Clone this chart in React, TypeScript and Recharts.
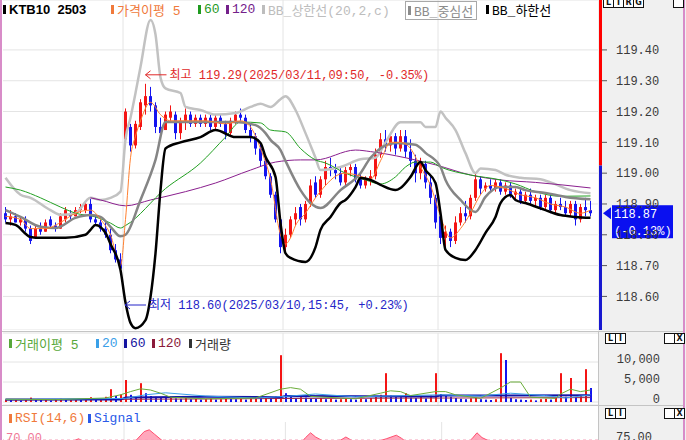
import React from 'react';
import { ComposedChart, Bar, Line, Area, XAxis, YAxis, CartesianGrid, ReferenceLine, ReferenceDot } from 'recharts';

// ---- price bars, 10-minute candles over four sessions ----
const opens = [
  118.87, 118.85, 118.86, 118.84, 118.85, 118.82, 118.79, 118.82, 118.81, 118.85, 118.83, 118.82, 118.85, 118.87, 118.86, 118.88, 118.88, 118.90, 118.85, 118.84, 118.82, 118.80, 118.75, 118.72,
  119.11, 119.15, 119.09, 119.15, 119.22, 119.25, 119.22, 119.15, 119.14, 119.18, 119.19, 119.13, 119.17, 119.19, 119.16, 119.18, 119.16, 119.18, 119.15, 119.18, 119.16, 119.13, 119.17, 119.19, 119.18, 119.14, 119.12, 119.08, 119.04, 118.99, 118.93, 118.85,
  118.76, 118.80, 118.85, 118.89, 118.85, 118.90, 118.97, 118.93, 118.98, 119.02, 119.01, 119.00, 118.97, 119.01, 119.02, 118.98, 118.96, 118.98, 118.99, 119.06, 119.11, 119.09, 119.12, 119.08, 119.12, 119.07, 119.04, 119.00, 119.03, 118.97, 118.92,
  118.86, 118.79, 118.81, 118.78, 118.84, 118.87, 118.86, 118.92, 118.98, 118.95, 118.96, 118.95, 118.97, 118.94, 118.96, 118.93, 118.94, 118.91, 118.93, 118.91, 118.92, 118.89, 118.92, 118.88, 118.90, 118.89, 118.87, 118.90, 118.85, 118.89, 118.88,
];
const highs = [
  118.89, 118.88, 118.87, 118.86, 118.86, 118.83, 118.83, 118.84, 118.85, 118.86, 118.84, 118.87, 118.89, 118.88, 118.89, 118.90, 118.91, 118.92, 118.86, 118.85, 118.84, 118.82, 118.77, 118.74,
  119.21, 119.16, 119.17, 119.24, 119.29, 119.28, 119.23, 119.18, 119.20, 119.22, 119.20, 119.18, 119.21, 119.20, 119.19, 119.19, 119.19, 119.19, 119.19, 119.19, 119.17, 119.18, 119.20, 119.21, 119.19, 119.16, 119.13, 119.10, 119.05, 119.00, 118.94, 118.86,
  118.82, 118.86, 118.89, 118.90, 118.91, 118.98, 118.99, 118.99, 119.04, 119.05, 119.03, 119.02, 119.02, 119.03, 119.03, 119.00, 118.99, 119.01, 119.08, 119.13, 119.14, 119.13, 119.13, 119.14, 119.14, 119.11, 119.06, 119.05, 119.04, 118.99, 118.93,
  118.88, 118.83, 118.82, 118.86, 118.89, 118.91, 118.93, 119.00, 118.99, 118.97, 118.98, 118.98, 118.98, 118.97, 118.97, 118.95, 118.95, 118.94, 118.95, 118.93, 118.93, 118.93, 118.93, 118.91, 118.92, 118.91, 118.91, 118.91, 118.90, 118.92, 118.91,
];
const lows = [
  118.84, 118.83, 118.84, 118.83, 118.81, 118.77, 118.79, 118.80, 118.81, 118.82, 118.81, 118.82, 118.84, 118.85, 118.86, 118.87, 118.87, 118.84, 118.83, 118.81, 118.79, 118.74, 118.71, 118.67,
  119.10, 119.07, 119.08, 119.14, 119.19, 119.20, 119.13, 119.11, 119.14, 119.17, 119.11, 119.11, 119.14, 119.15, 119.15, 119.15, 119.15, 119.14, 119.14, 119.15, 119.11, 119.12, 119.16, 119.17, 119.13, 119.10, 119.06, 119.02, 118.98, 118.92, 118.84, 118.74,
  118.74, 118.79, 118.83, 118.83, 118.84, 118.89, 118.92, 118.92, 118.96, 118.99, 118.98, 118.96, 118.96, 118.99, 118.97, 118.95, 118.95, 118.96, 118.98, 119.05, 119.07, 119.07, 119.06, 119.07, 119.05, 119.02, 118.97, 118.98, 118.95, 118.90, 118.82,
  118.77, 118.76, 118.76, 118.77, 118.83, 118.84, 118.85, 118.91, 118.93, 118.94, 118.94, 118.94, 118.93, 118.93, 118.92, 118.91, 118.90, 118.90, 118.90, 118.89, 118.88, 118.88, 118.87, 118.87, 118.88, 118.86, 118.86, 118.83, 118.84, 118.86, 118.86,
];
const closes = [
  118.85, 118.86, 118.84, 118.85, 118.82, 118.78, 118.82, 118.81, 118.84, 118.83, 118.82, 118.86, 118.88, 118.86, 118.88, 118.89, 118.90, 118.85, 118.84, 118.82, 118.80, 118.75, 118.72, 118.69,
  119.20, 119.09, 119.16, 119.23, 119.25, 119.22, 119.15, 119.13, 119.19, 119.20, 119.13, 119.17, 119.19, 119.16, 119.18, 119.16, 119.18, 119.15, 119.18, 119.16, 119.13, 119.17, 119.19, 119.18, 119.14, 119.12, 119.08, 119.04, 118.99, 118.93, 118.85, 118.76,
  118.80, 118.85, 118.87, 118.85, 118.90, 118.96, 118.93, 118.98, 119.02, 119.01, 119.00, 118.97, 119.01, 119.02, 118.98, 118.96, 118.98, 118.99, 119.06, 119.11, 119.09, 119.12, 119.08, 119.12, 119.07, 119.04, 119.00, 119.03, 118.97, 118.92, 118.84,
  118.79, 118.81, 118.78, 118.84, 118.87, 118.86, 118.92, 118.98, 118.95, 118.96, 118.95, 118.97, 118.94, 118.96, 118.93, 118.94, 118.91, 118.93, 118.91, 118.92, 118.89, 118.92, 118.88, 118.90, 118.89, 118.87, 118.90, 118.85, 118.89, 118.88, 118.87,
];
const volumes = [
  600, 500, 700, 400, 600, 1100, 600, 500, 700, 400, 600, 800, 500, 600, 700, 500, 900, 1200, 700, 800, 1300, 3200, 1500, 1900,
  5500, 1800, 1500, 4700, 2200, 1500, 1300, 1100, 1000, 1200, 900, 800, 1000, 700, 800, 600, 700, 900, 600, 700, 1000, 800, 700, 800, 600, 1100, 1200, 1000, 1300, 1100, 1500, 11700,
  2200, 1300, 1000, 1200, 1100, 900, 800, 1000, 700, 800, 600, 700, 900, 700, 600, 800, 700, 1000, 1300, 1800, 7200, 1600, 1400, 1200, 2200, 1100, 1000, 1300, 900, 1600, 7200,
  2000, 1600, 1300, 1000, 800, 700, 900, 1100, 700, 600, 500, 700, 12200, 10500, 1000, 700, 600, 500, 600, 400, 700, 800, 600, 1100, 7200, 1300, 6000, 1200, 1600, 8200, 3500,
];

// ---- indicator lines as [bar, value] ----
const bbUpper = [
  [0, 118.985], [3, 118.93], [5, 118.92], [9, 118.88], [11, 118.865], [14, 118.87], [17, 118.92], [19, 118.913], [21, 118.92], [23, 118.94],
  [24, 119.11], [25, 119.18], [26, 119.26], [27, 119.345], [29, 119.497], [30, 119.45], [31, 119.31], [32, 119.275], [35, 119.26], [36, 119.215],
  [39, 119.205], [42, 119.19], [46, 119.195], [49, 119.215], [51, 119.225], [53, 119.215], [55, 119.24], [56, 119.25], [58, 119.205], [60, 119.13],
  [62, 119.05], [63, 119.01], [67, 119.02], [71, 119.045], [74, 119.05], [76, 119.10], [79, 119.165], [83, 119.165], [84, 119.15], [86, 119.15],
  [87, 119.20], [88, 119.18], [90, 119.14], [92, 119.065], [94, 119.0], [95, 119.015], [98, 119.01], [100, 118.995], [103, 118.985], [107, 118.98],
  [109, 118.97], [113, 118.945], [117, 118.935],
];
const bbMiddle = [
  [0, 118.88], [3, 118.858], [7, 118.826], [10, 118.822], [14, 118.855], [17, 118.864], [19, 118.858], [21, 118.826], [23, 118.795], [24, 118.80],
  [27, 118.913], [30, 119.043], [32, 119.166], [39, 119.166], [46, 119.166], [50, 119.156], [52, 119.13], [53, 119.108], [55, 119.075], [56, 119.04],
  [59, 118.945], [61, 118.903], [63, 118.887], [67, 118.945], [71, 119.0], [73, 119.05], [78, 119.098], [82, 119.092], [84, 119.066], [87, 119.02],
  [88, 118.978], [91, 118.913], [94, 118.874], [96, 118.923], [99, 118.955], [102, 118.955], [104, 118.945], [108, 118.936], [112, 118.923], [117, 118.915],
];
const bbLower = [
  [0, 118.838], [2, 118.832], [5, 118.793], [7, 118.79], [12, 118.79], [16, 118.80], [17, 118.816], [18, 118.832], [20, 118.806], [21, 118.77],
  [23, 118.686], [24, 118.58], [25, 118.514], [26, 118.497], [28, 118.523], [29, 118.598], [30, 118.74], [31, 118.945], [32, 119.08], [35, 119.10],
  [39, 119.117], [42, 119.14], [46, 119.117], [49, 119.117], [51, 119.098], [52, 119.053], [54, 118.988], [55, 118.838], [56, 118.74], [57, 118.725],
  [60, 118.712], [62, 118.76], [63, 118.816], [65, 118.858], [67, 118.903], [68, 118.913], [70, 118.955], [71, 118.984], [73, 118.978], [75, 118.962],
  [78, 118.945], [79, 118.952], [81, 118.988], [83, 119.036], [84, 119.01], [86, 118.968], [87, 118.87], [88, 118.751], [90, 118.725], [92, 118.718],
  [94, 118.751], [96, 118.806], [98, 118.858], [99, 118.903], [101, 118.929], [102, 118.913], [104, 118.903], [108, 118.88], [111, 118.864], [114, 118.858],
  [117, 118.855],
];
const ma5 = [
  [0, 118.86], [3, 118.85], [5, 118.82], [8, 118.82], [11, 118.84], [14, 118.87], [17, 118.88], [19, 118.85], [21, 118.80], [23, 118.70],
  [24, 118.85], [25, 119.05], [26, 119.12], [27, 119.17], [29, 119.23], [31, 119.19], [33, 119.17], [36, 119.17], [40, 119.17], [44, 119.16],
  [47, 119.17], [49, 119.15], [51, 119.08], [53, 118.98], [55, 118.80], [56, 118.77], [57, 118.79], [58, 118.83], [60, 118.87], [62, 118.92],
  [64, 118.96], [66, 118.99], [68, 119.0], [71, 118.99], [73, 118.98], [75, 119.04], [77, 119.10], [79, 119.10], [81, 119.08], [83, 119.02],
  [85, 118.96], [87, 118.86], [89, 118.79], [91, 118.82], [93, 118.87], [95, 118.93], [97, 118.96], [100, 118.95], [103, 118.93], [106, 118.92],
  [109, 118.90], [112, 118.89], [115, 118.87], [117, 118.88],
];
const ma60 = [
  [0, 118.955], [3, 118.945], [7, 118.92], [11, 118.89], [14, 118.87], [18, 118.858], [21, 118.838], [23, 118.822], [24, 118.83], [32, 118.95],
  [39, 119.033], [44, 119.117], [47, 119.166], [51, 119.163], [53, 119.14], [56, 119.134], [59, 119.08], [62, 119.043], [64, 119.033], [68, 119.0],
  [72, 118.978], [75, 118.965], [78, 118.988], [80, 119.02], [82, 119.036], [85, 119.036], [87, 119.02], [93, 118.994], [99, 118.978], [102, 118.965],
  [106, 118.94], [111, 118.925], [117, 118.926],
];
const ma120 = [
  [17, 118.92], [19, 118.913], [24, 118.894], [29, 118.913], [36, 118.94], [42, 118.968], [49, 119.01], [54, 119.036], [59, 119.043], [62, 119.043],
  [70, 119.075], [73, 119.07], [80, 119.05], [86, 119.027], [93, 118.994], [99, 118.978], [106, 118.97], [117, 118.952],
];
const volMa5 = [
  [0, 700], [10, 600], [20, 1000], [23, 1800], [25, 2600], [27, 3300], [29, 3000], [31, 2200], [33, 1200], [40, 800], [50, 1000], [55, 3200],
  [57, 3600], [59, 3200], [61, 1400], [70, 800], [75, 2200], [77, 2800], [79, 2600], [81, 1600], [86, 2600], [88, 2600], [90, 1800], [95, 900],
  [99, 3500], [101, 5000], [103, 5000], [105, 1200], [110, 900], [111, 2000], [113, 3200], [115, 2600], [117, 3000],
];
const volMa20 = [
  [0, 600], [24, 900], [28, 1800], [32, 2300], [40, 1500], [50, 1000], [56, 1400], [62, 2000], [70, 1300], [80, 1600], [87, 1800], [95, 1500],
  [101, 2200], [108, 1600], [112, 1000], [117, 1800],
];
const volMa60 = [[0, 600], [23, 600], [24, 1100], [40, 1300], [55, 1200], [56, 1500], [86, 1400], [87, 1600], [117, 1700]];
const volMa120 = [[0, 500], [30, 700], [60, 900], [90, 1000], [117, 1100]];
const rsi = [
  [0, 55], [6, 48], [12, 62], [15, 72], [18, 58], [22, 35], [24, 62], [26, 66], [28, 84], [29, 87], [30, 80], [32, 66], [38, 58], [45, 60],
  [52, 40], [56, 32], [58, 55], [60, 74], [61, 82], [62, 75], [64, 66], [67, 70], [68, 75], [69, 70], [72, 62], [76, 72], [78, 78], [79, 73],
  [82, 55], [86, 38], [90, 48], [93, 72], [94, 82], [95, 74], [98, 62], [105, 55], [112, 48], [117, 52],
];
const rsiSignal = [[0, 52], [20, 55], [30, 68], [40, 62], [55, 45], [62, 66], [70, 65], [80, 64], [88, 45], [95, 66], [117, 52]];

const priceTicks = [118.6, 118.7, 118.8, 118.9, 119.0, 119.1, 119.2, 119.3, 119.4];
const volTicks = [0, 5000, 10000];
const rsiTicks = [75];
const dayStarts = [24, 56, 87];
const lastChangePct = -0.13;
const highMark = { i: 28, price: 119.29, text: '최고 119.29(2025/03/11,09:50, -0.35%)' };
const lowMark = { i: 23, price: 118.6, text: '최저 118.60(2025/03/10,15:45, +0.23%)' };

const priceLegend = [
  { x: 3, color: '#000000', label: 'KTB10  2503', bold: true },
  { x: 111, color: '#f07a3c', label: '가격이평 5' },
  { x: 198, color: '#1f9a1f', label: '60' },
  { x: 226, color: '#74208a', label: '120' },
  { x: 262, color: '#bdbdbd', label: 'BB_상한선(20,2,c)' },
  { x: 405, color: '#8c8c8c', label: 'BB_중심선', boxed: true },
  { x: 486, color: '#000000', label: 'BB_하한선' },
];
const volLegend = [
  { x: 9, color: '#58a83a', label: '거래이평 5' },
  { x: 96, color: '#3aa0e8', label: '20' },
  { x: 124, color: '#1414a0', label: '60' },
  { x: 152, color: '#8b1a3a', label: '120' },
  { x: 189, color: '#333333', label: '거래량' },
];
const rsiLegend = [
  { x: 9, color: '#f07a3c', label: 'RSI(14,6)' },
  { x: 88, color: '#2a5ae8', label: 'Signal' },
];

// ---- layout ----
const W = 686;
const H = 440;
const AXIS_W = 88;
const PRICE_H = 330;
const VOL_TOP = 331;
const VOL_H = 74;
const RSI_TOP = 405;
const RSI_H = 80;
const SLOTS = 119;
const MONO = "'Liberation Mono', 'Noto Sans CJK KR', monospace";
const UP = '#f41414';
const DOWN = '#1414f0';

const toMap = (pairs: number[][]) => new Map(pairs.map(([i, v]) => [i, v]));
const lineMaps: Record<string, Map<number, number>> = {
  bbUp: toMap(bbUpper), bbMid: toMap(bbMiddle), bbLow: toMap(bbLower), ma5: toMap(ma5), ma60: toMap(ma60), ma120: toMap(ma120),
  v5: toMap(volMa5), v20: toMap(volMa20), v60: toMap(volMa60), v120: toMap(volMa120), rsi: toMap(rsi), sig: toMap(rsiSignal),
};

const rows = Array.from({ length: SLOTS }, (_, i) => {
  const row: any = { i };
  if (i < closes.length) {
    row.range = [lows[i], highs[i]];
    row.o = opens[i];
    row.h = highs[i];
    row.l = lows[i];
    row.c = closes[i];
    row.vol = volumes[i];
    // volume bars are red when volume rose from the previous bar
    row.volUp = i === 0 || volumes[i] >= volumes[i - 1];
  }
  for (const [k, m] of Object.entries(lineMaps)) row[k] = m.has(i) ? m.get(i) : null;
  return row;
});

const lastClose = closes[closes.length - 1];
const prevClose = lastClose / (1 + lastChangePct / 100);

const Candle = (p: any) => {
  const { x, y, width, height, payload } = p;
  if (!payload || payload.h == null) return null;
  const { o, h, l, c } = payload;
  const top = Math.min(y, y + height);
  const span = Math.abs(height);
  const yOf = (v: number) => top + ((h - v) / (h - l)) * span;
  const color = c >= o ? UP : DOWN;
  const cx = x + width / 2;
  const b1 = Math.min(yOf(o), yOf(c));
  const bh = Math.max(1, Math.abs(yOf(o) - yOf(c)));
  return (
    <g>
      <line x1={cx} x2={cx} y1={top} y2={top + span} stroke={color} strokeWidth={1} />
      <rect x={cx - 1.5} y={b1} width={3} height={bh} fill={color} />
    </g>
  );
};

const VolBar = (p: any) => {
  const { x, y, width, height, payload } = p;
  if (!payload || payload.vol == null) return null;
  return <rect x={x + width / 2 - 1} y={Math.min(y, y + height)} width={2} height={Math.abs(height)} fill={payload.volUp ? UP : DOWN} />;
};

const PriceTick = (p: any) => {
  const { x, y, payload } = p;
  return (
    <g>
      <line x1={x + 4} x2={x + 9} y1={y} y2={y} stroke="#555" />
      <text x={x + 18} y={y} dy="0.36em" fill="#3a3a3a" fontSize={12} fontFamily={MONO}>{Number(payload.value).toFixed(2)}</text>
    </g>
  );
};

const VolTick = (p: any) => {
  const { x, y, payload } = p;
  return (
    <text x={x + 62} y={y - 3} dy="0.36em" textAnchor="end" fill="#3a3a3a" fontSize={12} fontFamily={MONO}>
      {Number(payload.value).toLocaleString('en-US')}
    </text>
  );
};

const RsiTick = (p: any) => {
  const { x, y, payload } = p;
  return (
    <text x={x + 18} y={y} dy="0.36em" fill="#3a3a3a" fontSize={12} fontFamily={MONO}>{Number(payload.value).toFixed(2)}</text>
  );
};

const markLabel = (text: string, color: string, dx: number, dy: number) => (props: any) => {
  const vb = props.viewBox || { x: 0, y: 0, width: 0, height: 0 };
  const cx = vb.x + vb.width / 2 + dx;
  const cy = vb.y + vb.height / 2 + dy;
  return (
    <g>
      <line x1={cx} x2={cx + 21} y1={cy} y2={cy} stroke={color} strokeWidth={1} />
      <path d={`M${cx + 5},${cy - 4} L${cx},${cy} L${cx + 5},${cy + 4}`} fill="none" stroke={color} strokeWidth={1} />
      <text x={cx + 24} y={cy} dy="0.36em" fill={color} fontSize={12} fontFamily={MONO}>{text}</text>
    </g>
  );
};

const PriceTag = (props: any) => {
  const vb = props.viewBox || { x: 0, y: 0, width: 0 };
  const x = vb.x + vb.width;
  const y = vb.y;
  const blue = '#0a10f0';
  return (
    <g>
      <polygon points={`${x + 5},${y} ${x + 13},${y - 6} ${x + 13},${y + 6}`} fill={blue} />
      <rect x={x + 14} y={y - 8} width={61} height={33} fill={blue} />
      <text x={x + 16} y={y} dy="0.36em" fill="#fff" fontSize={12} fontFamily={MONO}>{lastClose.toFixed(2)}</text>
      <text x={x + 16} y={y + 17} dy="0.36em" fill="#fff" fontSize={12} fontFamily={MONO}>{`(${lastChangePct.toFixed(2)}%)`}</text>
    </g>
  );
};

// vertical bar beside the price axis: red above the previous close, blue below
const AxisBar = (props: any) => {
  const vb = props.viewBox || { x: 0, y: 0, width: 0 };
  const x = vb.x + vb.width + 1;
  const y = vb.y;
  return (
    <g>
      <path d={`M${x + 1.5},0 L${x + 1.5},${y}`} stroke="#ff0000" strokeWidth={3} />
      <path d={`M${x + 1.5},${y} L${x + 1.5},${PRICE_H}`} stroke="#1818d0" strokeWidth={3} />
    </g>
  );
};

const RsiLevel = (props: any) => {
  const vb = props.viewBox || { x: 0, y: 0 };
  return (
    <text x={vb.x + 3} y={vb.y + 2} fill="#f07898" fontSize={12} fontFamily={MONO}>70.00</text>
  );
};

const Legend = ({ items, top }: { items: any[]; top: number }) => (
  <>
    {items.map((it) => (
      <div
        key={it.label}
        style={{
          position: 'absolute', left: it.x, top, height: 17, display: 'flex', alignItems: 'center', whiteSpace: 'pre',
          fontFamily: it.bold ? "'Liberation Sans', 'Noto Sans CJK KR', sans-serif" : MONO, fontSize: 13,
          fontWeight: it.bold ? 700 : 400, color: it.color,
          border: it.boxed ? '1px solid #a8a8a8' : 'none', padding: it.boxed ? '0 3px 0 2px' : 0, background: 'transparent',
        }}
      >
        <span style={{ display: 'inline-block', width: 3, height: 9, background: it.color, marginRight: 3 }} />
        {it.label}
      </div>
    ))}
  </>
);

const Boxes = ({ letters, left, top }: { letters: string[]; left: number; top: number }) => (
  <div style={{ position: 'absolute', left, top, display: 'flex' }}>
    {letters.map((l, k) => (
      <div key={k} style={{ width: 9, height: 9, border: '1px solid #111', marginLeft: k ? -1 : 0, fontSize: 8, lineHeight: '9px', textAlign: 'center', fontFamily: "'DejaVu Sans', sans-serif", fontWeight: 700, background: '#fff', color: '#111' }}>{l}</div>
    ))}
  </div>
);

const lineProps = { dot: false, activeDot: false, connectNulls: true, isAnimationActive: false, type: 'monotone' as const };

const App = () => (
  <div style={{ position: 'relative', width: W, height: H, overflow: 'hidden', background: '#fff' }}>
    <style>{'body{margin:0}'}</style>
    <div style={{ position: 'absolute', left: W - AXIS_W, top: 0, width: AXIS_W, height: H, background: '#f0f0f0' }} />

    {/* price panel */}
    <div style={{ position: 'absolute', left: 0, top: 0 }}>
      <ComposedChart width={W} height={PRICE_H} data={rows} margin={{ top: 0, right: 0, bottom: 0, left: 3 }}>
        <CartesianGrid vertical={false} stroke="#e4e4e4" />
        <XAxis dataKey="i" hide />
        <YAxis orientation="right" width={AXIS_W} domain={[118.491, 119.562]} allowDataOverflow ticks={priceTicks} interval={0}
          tick={<PriceTick />} tickSize={0} tickMargin={0} axisLine={false} tickLine={false} />
        {dayStarts.map((d) => <ReferenceLine key={d} x={d} position="start" stroke="#e4e4e4" />)}
        <Line dataKey="bbUp" stroke="#c2c2c2" strokeWidth={2.5} {...lineProps} />
        <Line dataKey="ma120" stroke="#8a1f8e" strokeWidth={1} {...lineProps} />
        <Line dataKey="ma60" stroke="#22a022" strokeWidth={1} {...lineProps} />
        <Line dataKey="bbMid" stroke="#858585" strokeWidth={2.5} {...lineProps} />
        <Bar dataKey="range" barSize={3} shape={<Candle />} isAnimationActive={false} />
        <Line dataKey="ma5" stroke="#ff8030" strokeWidth={1} {...lineProps} />
        <Line dataKey="bbLow" stroke="#000000" strokeWidth={2.5} {...lineProps} />
        <ReferenceLine y={prevClose} stroke="none" label={AxisBar} />
        <ReferenceLine y={lastClose} stroke="none" label={PriceTag} />
        <ReferenceDot x={highMark.i} y={highMark.price} r={1} fill="none" stroke="none" label={markLabel(highMark.text, '#e02828', 0, -9)} />
        <ReferenceDot x={lowMark.i} y={lowMark.price} r={1} fill="none" stroke="none" label={markLabel(lowMark.text, '#2424c8', 4.5, 8.6)} />
      </ComposedChart>
    </div>

    {/* volume panel */}
    <div style={{ position: 'absolute', left: 0, top: VOL_TOP }}>
      <ComposedChart width={W} height={VOL_H} data={rows} margin={{ top: 2, right: 0, bottom: 0, left: 3 }}>
        <CartesianGrid vertical={false} stroke="#e4e4e4" />
        <XAxis dataKey="i" hide />
        <YAxis orientation="right" width={AXIS_W} domain={[-750, 17250]} allowDataOverflow ticks={volTicks} interval={0}
          tick={<VolTick />} tickSize={0} tickMargin={0} axisLine={false} tickLine={false} />
        {dayStarts.map((d) => <ReferenceLine key={d} x={d} position="start" stroke="#e4e4e4" />)}
        <Bar dataKey="vol" barSize={2} shape={<VolBar />} isAnimationActive={false} />
        <Line dataKey="v120" stroke="#9b2a4a" strokeWidth={1} {...lineProps} type="linear" />
        <Line dataKey="v60" stroke="#1414a8" strokeWidth={2} {...lineProps} type="linear" />
        <Line dataKey="v20" stroke="#3aa0e8" strokeWidth={1} {...lineProps} type="linear" />
        <Line dataKey="v5" stroke="#6aac3a" strokeWidth={1} {...lineProps} type="linear" />
      </ComposedChart>
    </div>

    {/* RSI panel */}
    <div style={{ position: 'absolute', left: 0, top: RSI_TOP }}>
      <ComposedChart width={W} height={RSI_H} data={rows} margin={{ top: 17, right: 0, bottom: 3, left: 3 }}>
        <XAxis dataKey="i" hide />
        <YAxis orientation="right" width={AXIS_W} domain={[0, 100]} allowDataOverflow ticks={rsiTicks} interval={0}
          tick={<RsiTick />} tickSize={0} tickMargin={0} axisLine={false} tickLine={false} />
        {dayStarts.map((d) => <ReferenceLine key={d} x={d} position="start" stroke="#e4e4e4" />)}
        <ReferenceLine y={70} stroke="#f4a0b8" strokeDasharray="3 3" label={RsiLevel} />
        <Area dataKey="rsi" baseValue={70} type="linear" connectNulls fill="#ffa8bc" fillOpacity={1} stroke="#ff5070" strokeWidth={1} dot={false} activeDot={false} isAnimationActive={false} />
        <Line dataKey="sig" stroke="#3a64e8" strokeWidth={1} {...lineProps} />
      </ComposedChart>
    </div>

    {/* frame */}
    <div style={{ position: 'absolute', left: 0, top: 0, width: 2, height: H, background: '#d88cc8' }} />
    <div style={{ position: 'absolute', left: 683, top: 0, width: 2, height: H, background: '#d88cc8' }} />
    <div style={{ position: 'absolute', left: 2, top: VOL_TOP, width: 681, height: 1, background: '#c4c4c4' }} />
    <div style={{ position: 'absolute', left: 2, top: RSI_TOP, width: 681, height: 1, background: '#c4c4c4' }} />
    <div style={{ position: 'absolute', left: W - AXIS_W, top: VOL_TOP, width: 1, height: H - VOL_TOP, background: '#c4c4c4' }} />

    <Legend items={priceLegend} top={1} />
    <Legend items={volLegend} top={335} />
    <Legend items={rsiLegend} top={410} />

    <Boxes letters={['L', 'I', 'R', 'G']} left={603} top={-3} />
    <Boxes letters={['']} left={673} top={-3} />
    <Boxes letters={['L', 'I']} left={605} top={333} />
    <Boxes letters={['', 'X']} left={664} top={333} />
    <Boxes letters={['L', 'I']} left={605} top={408} />
    <Boxes letters={['', 'X']} left={664} top={408} />
  </div>
);

export default App;
